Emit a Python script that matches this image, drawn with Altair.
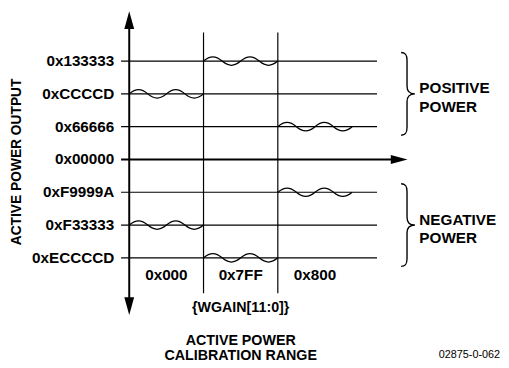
import altair as alt
import pandas as pd

# ---------------- data ----------------
levels = [3, 2, 1, 0, -1, -2, -3]
level_labels = ["0x133333", "0xCCCCD", "0x66666", "0x00000", "0xF9999A", "0xF33333", "0xECCCCD"]
code_centers = [0.5, 1.5, 2.5]
code_labels = ["0x000", "0x7FF", "0x800"]
code_boundaries = [1, 2]
wave_col = [0, 1, 2, 2, 0, 1]
wave_level = [2, 3, 1, -1, -2, -3]
brace_level = [2, -2]
brace_labels = ["POSITIVE\nPOWER", "NEGATIVE\nPOWER"]
y_title = "ACTIVE POWER OUTPUT"
x_subtitle = "{WGAIN[11:0]}"
x_title = "ACTIVE POWER\nCALIBRATION RANGE"
fig_code = "02875-0-062"

# ---------------- layout ----------------
W, H = 501, 360
X_PX0, UX = 123.2, 75.5      # pixel of column 0, pixels per column
Y_PX0, UY = 151.0, 33.33     # pixel of level 0, pixels per level
xs = alt.Scale(domain=[-X_PX0 / UX, (W - X_PX0) / UX], nice=False, zero=False)
ys = alt.Scale(domain=[-(H - Y_PX0) / UY, Y_PX0 / UY], nice=False, zero=False)

FONT = "Liberation Sans"
GRID_X1, GRID_X2 = -0.11, 3.335
ZERO_TIP = 3.746
AX_TOP, AX_BOTTOM = 4.52, -4.74
BOUND_TOP, BOUND_BOTTOM = 3.87, -4.08

WAVE = ("M0,0 C6.8,-5.7 12.1,-5.7 18.9,0 C25.7,5.7 31,5.7 37.8,0 "
        "C44.6,-5.7 49.8,-5.7 56.6,0 C63.4,5.7 68.7,5.7 75.5,0")
BRACE = ("M-14,-42 C-9,-42 -8,-39 -8,-34 L-8,-8 C-8,-3 -6,0 0,0 "
         "C-6,0 -8,3 -8,8 L-8,34 C-8,39 -9,42 -14,42")
ARROW_UP = "M0,0 L5,18 L-5,18 Z"
ARROW_DOWN = "M0,0 L5,-18 L-5,-18 Z"
ARROW_RIGHT = "M0,0 L-17,-4.5 L-17,4.5 Z"


def X(f):
    return alt.X(f, scale=xs, axis=None)


def Y(f):
    return alt.Y(f, scale=ys, axis=None)


grid_df = pd.DataFrame({"level": [l for l in levels if l != 0]})
grid_df["x1"], grid_df["x2"] = GRID_X1, GRID_X2
grid = alt.Chart(grid_df).mark_rule(color="black", strokeWidth=1.2).encode(
    x=X("x1:Q"), x2="x2:Q", y=Y("level:Q"))

zero_df = pd.DataFrame({"level": [0], "x1": [GRID_X1], "x2": [ZERO_TIP - 0.15]})
zero = alt.Chart(zero_df).mark_rule(color="black", strokeWidth=2).encode(
    x=X("x1:Q"), x2="x2:Q", y=Y("level:Q"))

vaxis_df = pd.DataFrame({"x": [0], "y1": [AX_BOTTOM + 0.3], "y2": [AX_TOP - 0.3]})
vaxis = alt.Chart(vaxis_df).mark_rule(color="black", strokeWidth=2).encode(
    x=X("x:Q"), y=Y("y1:Q"), y2="y2:Q")

bound_df = pd.DataFrame({"x": code_boundaries})
bound_df["y1"], bound_df["y2"] = BOUND_BOTTOM, BOUND_TOP
bounds = alt.Chart(bound_df).mark_rule(color="black", strokeWidth=1.2).encode(
    x=X("x:Q"), y=Y("y1:Q"), y2="y2:Q")


def arrow(shape, x, y):
    return alt.Chart(pd.DataFrame({"x": [x], "y": [y]})).mark_point(
        shape=shape, size=4, filled=True, color="black", opacity=1, strokeWidth=0
    ).encode(x=X("x:Q"), y=Y("y:Q"))


arrows = [arrow(ARROW_UP, 0, AX_TOP), arrow(ARROW_DOWN, 0, AX_BOTTOM),
          arrow(ARROW_RIGHT, ZERO_TIP, 0)]

wave_df = pd.DataFrame({"col": wave_col, "level": wave_level})
waves = alt.Chart(wave_df).mark_point(
    shape=WAVE, size=4, filled=False, color="black", strokeWidth=1.3, opacity=1
).encode(x=X("col:Q"), y=Y("level:Q"))

brace_df = pd.DataFrame({"level": brace_level, "text": brace_labels})
brace_df["x"] = 3.845
braces = alt.Chart(brace_df).mark_point(
    shape=BRACE, size=4, filled=False, color="black", strokeWidth=1.4, opacity=1
).encode(x=X("x:Q"), y=Y("level:Q"))

brace_df["tx"] = 3.905
brace_text = alt.Chart(brace_df).mark_text(
    font=FONT, fontWeight="bold", fontSize=15.5, align="left", baseline="middle",
    lineBreak="\n", lineHeight=18.5, dy=-5.5, color="black"
).encode(x=X("tx:Q"), y=Y("level:Q"), text="text:N")

lab_df = pd.DataFrame({"level": levels, "label": level_labels})
lab_df["x"] = -0.201
level_text = alt.Chart(lab_df).mark_text(
    font=FONT, fontWeight="bold", fontSize=15.5, align="right", baseline="middle",
    color="black"
).encode(x=X("x:Q"), y=Y("level:Q"), text="label:N")

code_df = pd.DataFrame({"col": code_centers, "label": code_labels})
code_df["y"] = -3.54
code_text = alt.Chart(code_df).mark_text(
    font=FONT, fontWeight="bold", fontSize=15.5, align="center", baseline="middle",
    color="black"
).encode(x=X("col:Q"), y=Y("y:Q"), text="label:N")

misc_df = pd.DataFrame({
    "x": [1.5, 1.5],
    "y": [-4.545, -5.53],
    "t": [x_subtitle, x_title],
})
misc_text = alt.Chart(misc_df).mark_text(
    font=FONT, fontWeight="bold", fontSize=14.5, align="center", baseline="middle",
    lineBreak="\n", lineHeight=15.2, color="black"
).encode(x=X("x:Q"), y=Y("y:Q"), text="t:N")

ytitle = alt.Chart(pd.DataFrame({"x": [-1.506], "y": [-0.075], "t": [y_title]})).mark_text(
    font=FONT, fontWeight="bold", fontSize=14, angle=270, align="center",
    baseline="middle", color="black"
).encode(x=X("x:Q"), y=Y("y:Q"), text="t:N")

code_note = alt.Chart(pd.DataFrame({"x": [4.991], "y": [-5.97], "t": [fig_code]})).mark_text(
    font=FONT, fontSize=11, align="right", baseline="middle", color="black"
).encode(x=X("x:Q"), y=Y("y:Q"), text="t:N")

chart = alt.layer(
    grid, zero, bounds, vaxis, *arrows, waves, braces,
    level_text, code_text, misc_text, ytitle, brace_text, code_note
).properties(
    width=W, height=H, padding=0, autosize="none", background="white"
).configure_view(stroke=None)

chart.save("out.html", embed_options={"renderer": "svg", "actions": False})
